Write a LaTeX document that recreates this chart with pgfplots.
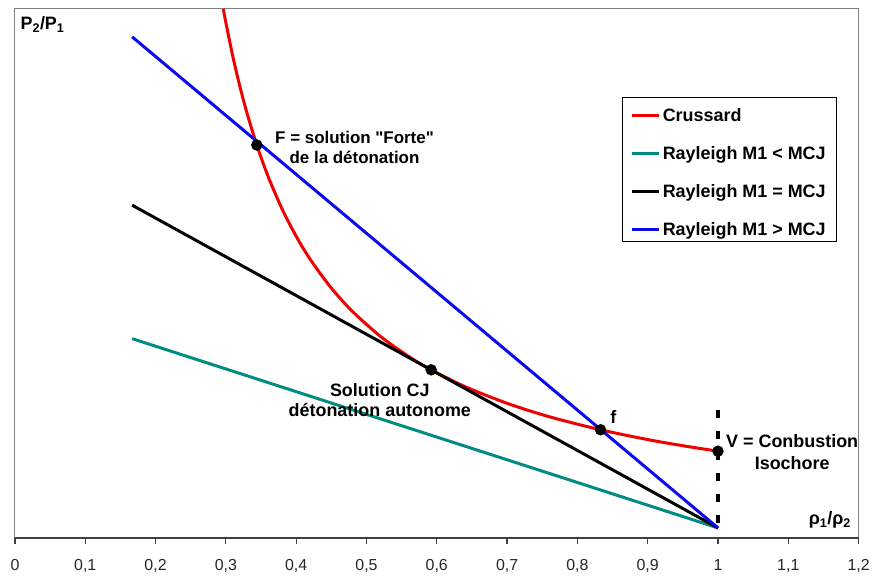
\documentclass[border=0pt]{standalone}
\usepackage{fontspec}
\setmainfont{Liberation Sans}
\usepackage{pgfplots}
\pgfplotsset{compat=1.18}
\definecolor{cteal}{RGB}{0,140,130}
\definecolor{cblue}{RGB}{10,10,235}
\definecolor{cred}{RGB}{240,0,0}
\begin{document}
\begin{tikzpicture}
\begin{axis}[
  scale only axis, width=847pt, height=531pt,
  xmin=0, xmax=1.2, ymin=0, ymax=53.1,
  clip=false,
  xtick={0,0.1,0.2,0.3,0.4,0.5,0.6,0.7,0.8,0.9,1,1.1,1.2},
  ytick=\empty,
  xtick pos=left, tick align=outside, major tick length=6pt,
  x tick style={black!75, line width=1.2pt},
  /pgf/number format/use comma,
  /pgf/number format/assume math mode=true,
  tick label style={font=\fontsize{16}{19}\selectfont, text=black!85},
  xticklabel style={yshift=-12pt},
  axis line style={gray, line width=1pt},
  legend image code/.code={\draw[#1] (0pt,-2.8pt) -- (27pt,-2.8pt);},
  legend style={at={(0.719,0.834)}, anchor=north west, draw=black, line width=0.8pt,
    fill=white, font=\bfseries\fontsize{18}{21}\selectfont,
    inner xsep=9pt, inner ysep=2.4pt, row sep=12.7pt,
    nodes={inner xsep=2pt, inner ysep=0pt, text height=22pt, text depth=3.6pt}},
  legend cell align=left,
]
\draw[black!75, line width=1.5pt] (rel axis cs:0,0) -- (rel axis cs:1,0);
% Crussard
\addplot[cred, line width=3pt, smooth] coordinates {
 (0.2964,53.1) (0.30,51.73) (0.31,48.31) (0.32,45.31) (0.33,42.66)
 (0.344,39.44) (0.36,36.30) (0.38,33.02) (0.40,30.28) (0.42,27.96)
 (0.45,25.08) (0.48,22.74) (0.52,20.22) (0.56,18.21) (0.592,16.87)
 (0.64,15.19) (0.70,13.51) (0.76,12.16) (0.833,10.85) (0.90,9.87)
 (0.95,9.25) (1.0,8.70)};
\addlegendentry{Crussard}
\addplot[cteal, line width=3pt] coordinates {(0.1667,20.0) (1,1.0)};
\addlegendentry{Rayleigh M1 < MCJ}
\addplot[black, line width=3pt] coordinates {(0.1667,33.4) (1,1.0)};
\addlegendentry{Rayleigh M1 = MCJ}
\addplot[cblue, line width=3pt] coordinates {(0.1667,50.3) (1,1.0)};
\addlegendentry{Rayleigh M1 > MCJ}
% dashed isochore
\addplot[black, line width=4.5pt, dash pattern=on 8pt off 13pt, forget plot] coordinates {(1,12.8) (1,0.8)};
% points
\addplot[only marks, mark=*, mark size=5.5pt, black, forget plot] coordinates {
 (0.344,39.44) (0.592,16.87) (0.833,10.85) (1,8.70)};
% labels
\node[font=\bfseries\fontsize{17}{21}\selectfont, align=center] at (axis cs:0.483,39.2)
  {F = solution \textquotedbl Forte\textquotedbl\\de la détonation};
\node[font=\bfseries\fontsize{18}{20}\selectfont, align=center] at (axis cs:0.519,13.8)
  {Solution CJ\\détonation autonome};
\node[font=\bfseries\fontsize{18}{20}\selectfont] at (axis cs:0.851,12.1) {f};
\node[font=\bfseries\fontsize{18}{22}\selectfont, align=center] at (axis cs:1.1055,8.6)
  {V = Conbustion\\Isochore};
\node[font=\bfseries\fontsize{18}{20}\selectfont, anchor=east] at (axis cs:1.194,1.8)
  {ρ\textsubscript{1}/ρ\textsubscript{2}};
\node[font=\bfseries\fontsize{18}{20}\selectfont, anchor=west] at (axis cs:0.003,51.5)
  {P\textsubscript{2}/P\textsubscript{1}};
\end{axis}
\path (current axis.south west) ++(-15pt,-33pt);
\path (current axis.north east) ++(11pt,9pt);
\end{tikzpicture}
\end{document}
